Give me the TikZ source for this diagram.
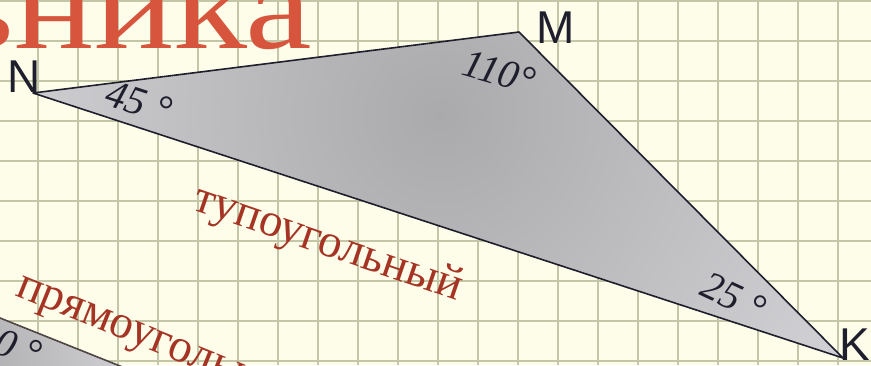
\documentclass[tikz,border=0pt]{standalone}
\usepackage{fontspec}
\setmainfont{Liberation Serif}
\newfontfamily\vertexfont{Liberation Sans}
\definecolor{paper}{RGB}{253,253,234}
\definecolor{gridline}{RGB}{196,198,168}
\definecolor{titlered}{RGB}{214,85,60}
\definecolor{wordred}{RGB}{165,52,36}
\definecolor{edge}{RGB}{30,30,45}
\definecolor{greylight}{RGB}{214,214,218}
\definecolor{greydark}{RGB}{170,170,172}
\definecolor{otheredge}{RGB}{80,70,70}

\begin{document}
\begin{tikzpicture}[x=1pt,y=-1pt,
  vertex/.style={font=\vertexfont\fontsize{46}{46}\selectfont,text=edge,inner sep=0pt,anchor=base west},
  angle/.style={font=\itshape\fontsize{40}{40}\selectfont,text=edge,inner sep=0pt},
  kind/.style={font=\fontsize{47}{47}\selectfont,text=wordred,inner sep=0pt,anchor=base west}
]
  \useasboundingbox (0,0) rectangle (871,365);
  \clip (0,0) rectangle (871,365);
  \fill[paper] (0,0) rectangle (871,365);
  \foreach \gx in {-2,38,...,878}
    \draw[gridline,line width=1.8pt] (\gx,0) -- (\gx,365);
  \foreach \gy in {1,41,...,361}
    \draw[gridline,line width=1.8pt] (0,\gy) -- (871,\gy);

  \node[font=\fontsize{125}{125}\selectfont,text=titlered,inner sep=0pt,anchor=base east,xscale=1.2] (title) at (312,48) {ьника};

  \coordinate (N) at (33,93);
  \coordinate (M) at (519,32);
  \coordinate (K) at (843,358);
  \begin{scope}
    \clip (N) -- (M) -- (K) -- cycle;
    \shade[inner color=greydark,outer color=greylight] (440,115) circle (520);
  \end{scope}
  \draw[edge,line width=1.6pt,line join=round] (N) -- (M) -- (K) -- cycle;

  \coordinate (A) at (-60,294);
  \coordinate (B) at (230,410);
  \coordinate (C) at (-60,410);
  \begin{scope}
    \clip (A) -- (B) -- (C) -- cycle;
    \shade[inner color=greydark,outer color=greylight] (-40,380) circle (200);
  \end{scope}
  \draw[otheredge,line width=1.6pt] (A) -- (B) -- (C) -- cycle;

  \node[vertex] (lN) at (7,92) {N};
  \node[vertex] (lM) at (536,43) {M};
  \node[vertex] (lK) at (839,360) {K};

  \node[angle,rotate=-18] (aN) at (139,102) {45 °};
  \node[angle,rotate=-16] (aM) at (499,72) {110°};
  \node[angle,rotate=-25] (aK) at (734,297) {25 °};
  \node[angle,rotate=-20,anchor=east] (aR) at (40,356) {90 °};

  \node[kind,rotate=-19] (obtuse) at (191,209) {тупоугольный};
  \node[kind,rotate=-22] (right) at (14,295) {прямоугольный};
\end{tikzpicture}
\end{document}
